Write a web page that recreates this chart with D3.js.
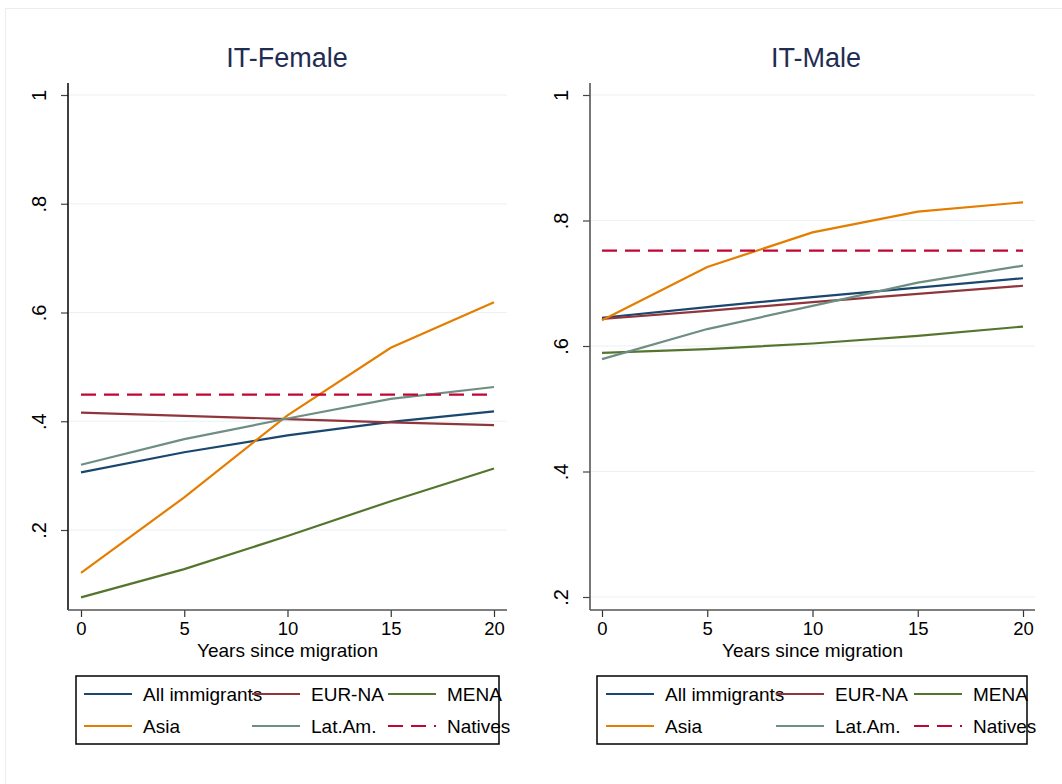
<!DOCTYPE html>
<html><head><meta charset="utf-8">
<script src="https://cdn.jsdelivr.net/npm/d3@7"></script>
<style>body{margin:0;background:#fff}svg{display:block;font-family:Arial,"Liberation Sans",sans-serif}</style>
</head><body>
<svg id="chart" width="1062" height="784"></svg>
<script>
const years = [0, 5, 10, 15, 20];
const seriesNames = ["All immigrants", "EUR-NA", "MENA", "Asia", "Lat.Am.", "Natives"];
const panelTitles = ["IT-Female", "IT-Male"];
const xTicks = [0, 5, 10, 15, 20];
const yTicks = [0.2, 0.4, 0.6, 0.8, 1];
const yTickLabels = [".2", ".4", ".6", ".8", "1"];
const xLabel = "Years since migration";

// IT-Female
const femaleAll   = [0.306, 0.343, 0.374, 0.399, 0.418];
const femaleEurNa = [0.416, 0.410, 0.404, 0.398, 0.393];
const femaleMena  = [0.076, 0.128, 0.189, 0.253, 0.313];
const femaleAsia  = [0.121, 0.260, 0.411, 0.535, 0.619];
const femaleLatAm = [0.320, 0.367, 0.405, 0.441, 0.463];
const femaleNatives = [0.449, 0.449, 0.449, 0.449, 0.449];
// IT-Male
const maleAll   = [0.645, 0.662, 0.678, 0.693, 0.708];
const maleEurNa = [0.643, 0.656, 0.670, 0.683, 0.696];
const maleMena  = [0.589, 0.595, 0.604, 0.616, 0.631];
const maleAsia  = [0.641, 0.726, 0.781, 0.814, 0.829];
const maleLatAm = [0.579, 0.627, 0.664, 0.701, 0.728];
const maleNatives = [0.752, 0.752, 0.752, 0.752, 0.752];

const colors = ["#1a476f", "#90353b", "#55752f", "#e37e00", "#6e8e84", "#c10534"];

const panelData = [
  [femaleAll, femaleEurNa, femaleMena, femaleAsia, femaleLatAm, femaleNatives],
  [maleAll, maleEurNa, maleMena, maleAsia, maleLatAm, maleNatives]
];

const layouts = [
  {axisX: 68, right: 507, x0: 81, x1: 494, yDomain: [0.2, 1], yRange: [530, 95], bottom: 610, top: 83,
   titleX: 287, legend: {x: 76, y: 676, w: 423, h: 68, cols: [84, 252, 388]}, yAxisColor: "#111"},
  {axisX: 590, right: 1035, x0: 602, x1: 1023, yDomain: [0.2, 1], yRange: [597, 95], bottom: 610, top: 83,
   titleX: 816, legend: {x: 597, y: 676, w: 430, h: 68, cols: [606, 776, 914]}, yAxisColor: "#555"}
];

const svg = d3.select("#chart");
svg.append("rect").attr("x", 5.5).attr("y", 8.5).attr("width", 1070).attr("height", 800)
  .attr("fill", "#fff").attr("stroke", "#e6eef0").attr("stroke-width", 1);

layouts.forEach((L, pi) => {
  const x = d3.scaleLinear().domain([0, 20]).range([L.x0, L.x1]);
  const y = d3.scaleLinear().domain(L.yDomain).range(L.yRange);
  const g = svg.append("g");

  // gridlines
  g.selectAll(".grid").data(yTicks).enter().append("line")
    .attr("x1", L.axisX).attr("x2", L.right)
    .attr("y1", d => y(d)).attr("y2", d => y(d))
    .attr("stroke", "#eaf2f3").attr("stroke-width", 1.2);

  // y axis
  const yAx = g.append("g").attr("transform", `translate(${L.axisX},0)`)
    .call(d3.axisLeft(y).tickValues(yTicks).tickSize(7).tickFormat((d, i) => yTickLabels[i]));
  yAx.select(".domain").remove();
  yAx.selectAll(".tick line").attr("stroke", "#444").attr("stroke-width", 1.2);
  yAx.selectAll(".tick text").attr("font-size", 20).attr("fill", "#000")
    .attr("text-anchor", "middle").attr("x", 0)
    .attr("transform", "translate(-21,0) rotate(-90)").attr("y", 0).attr("dy", "-0.05em");
  g.append("line").attr("x1", L.axisX).attr("x2", L.axisX).attr("y1", L.top).attr("y2", L.bottom)
    .attr("stroke", L.yAxisColor).attr("stroke-width", 1.6);

  // x axis
  const xAx = g.append("g").attr("transform", `translate(0,${L.bottom})`)
    .call(d3.axisBottom(x).tickValues(xTicks).tickSize(7).tickFormat(d3.format("d")));
  xAx.select(".domain").remove();
  xAx.selectAll(".tick line").attr("stroke", "#333").attr("stroke-width", 1.2);
  xAx.selectAll(".tick text").attr("font-size", 18.5).attr("fill", "#000").attr("y", 12).attr("dy", "0.71em");
  g.append("line").attr("x1", L.axisX).attr("x2", L.right).attr("y1", L.bottom).attr("y2", L.bottom)
    .attr("stroke", "#555").attr("stroke-width", 1.6);

  g.append("text").attr("x", (L.x0 + L.x1) / 2).attr("y", 657).attr("text-anchor", "middle")
    .attr("font-size", 19).attr("fill", "#000").text(xLabel);

  // title
  g.append("text").attr("x", L.titleX).attr("y", 67).attr("text-anchor", "middle")
    .attr("font-size", 27).attr("fill", "#1f2d53").text(panelTitles[pi]);

  // lines
  const line = d3.line().x((d, i) => x(years[i])).y(d => y(d));
  panelData[pi].forEach((vals, si) => {
    g.append("path").datum(vals).attr("d", line).attr("fill", "none")
      .attr("stroke", colors[si]).attr("stroke-width", 2.2)
      .attr("stroke-dasharray", si === 5 ? "15,8" : null);
  });

  // legend
  const Lg = L.legend;
  g.append("rect").attr("x", Lg.x).attr("y", Lg.y).attr("width", Lg.w).attr("height", Lg.h)
    .attr("fill", "#fff").attr("stroke", "#000").attr("stroke-width", 1.5);
  seriesNames.forEach((name, si) => {
    const col = si % 3, row = Math.floor(si / 3);
    const lx = Lg.cols[col];
    const ly = Lg.y + 18 + row * 32;
    g.append("line").attr("x1", lx).attr("x2", lx + 48).attr("y1", ly).attr("y2", ly)
      .attr("stroke", colors[si]).attr("stroke-width", 2.2)
      .attr("stroke-dasharray", si === 5 ? "15,8" : null);
    g.append("text").attr("x", lx + 59).attr("y", ly).attr("dy", "0.35em")
      .attr("font-size", 19).attr("fill", "#000").text(name);
  });
});
</script>
</body></html>
